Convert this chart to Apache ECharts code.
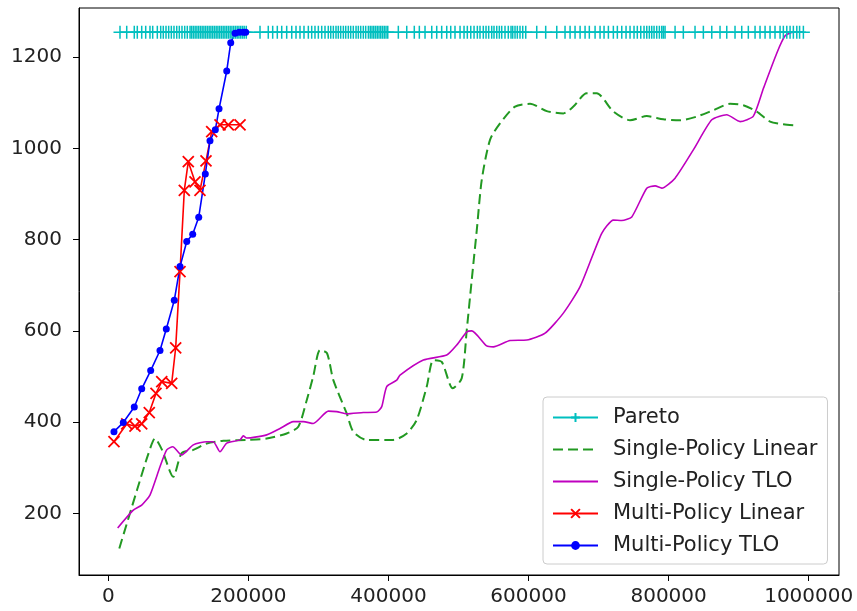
<!DOCTYPE html>
<html>
<head>
<meta charset="utf-8">
<script src="https://cdn.jsdelivr.net/npm/echarts@6/dist/echarts.min.js"></script>
<style>
html,body{margin:0;padding:0;background:#fff;}
#chart{width:857px;height:611px;}
</style>
</head>
<body>
<div id="chart"></div>
<script>
// ---- data ----
var xTicks = [0, 200000, 400000, 600000, 800000, 1000000];
var yTicks = [200, 400, 600, 800, 1000, 1200];

var seriesNames = ['Pareto', 'Single-Policy Linear', 'Single-Policy TLO', 'Multi-Policy Linear', 'Multi-Policy TLO'];

var paretoLevel = 1255;
var paretoX = [16700, 26300, 37100, 41400, 47700, 53400, 59500, 63400, 70000, 74800, 78500, 82400, 86200, 90000, 93800, 97700,
  101400, 105200, 109100, 112800, 116700, 119000, 121500, 124000, 126500, 129000, 131500, 134000, 136500, 139000, 141500,
  144000, 146500, 149000, 151500, 154000, 156500, 159000, 161500, 164000, 166500, 169000, 171500, 174000, 176500, 179000,
  181500, 184000, 186500, 189000, 191500, 194000, 197000, 216600, 228400, 234700, 241300, 247600, 254700, 261900, 268000,
  273700, 279400, 285600, 290400, 295100, 299900, 304700, 309400, 314100, 317600, 321300, 325100, 328400, 331800, 335600,
  339000, 342700, 346100, 349800, 353700, 357000, 360400, 364100, 367500, 371300, 374000, 376500, 379000, 381500, 384000,
  386500, 389000, 391500, 394000, 396500, 399000, 414100, 426100, 436900, 444100, 452200, 461800, 468900, 476000, 483200,
  488900, 495000, 502200, 507900, 512600, 517500, 522200, 526900, 530700, 535400, 539300, 543100, 547400, 550700, 554600,
  558300, 561700, 566400, 571100, 575000, 577400, 580700, 584000, 587800, 591700, 596000, 611700, 624500, 640300, 652100,
  659300, 666400, 673600, 680700, 686800, 695000, 702100, 707800, 714000, 721100, 726800, 733100, 739200, 744900, 750600,
  755300, 760200, 764900, 768800, 772500, 775900, 779200, 783000, 786800, 790200, 792500, 794900, 809200, 821000, 837700,
  849600, 861600, 873400, 883000, 894800, 904400, 913800, 923400, 930500, 937700, 944800, 951900, 959100, 963800, 968700,
  973400, 978100, 983000, 987000, 992400];

var spLinearX = [15700, 41000, 56700, 66700, 76700, 92800, 104800, 121400, 140500, 164200, 197600, 226200, 254700, 271300,
  283300, 292700, 302300, 312300, 321300, 340400, 349800, 368900, 406900, 426100, 440400, 454700, 464100, 476100, 491800,
  504600, 511800, 518900, 526100, 533200, 545000, 559300, 580700, 602100, 626000, 649700, 664000, 683100, 697400, 721100,
  744900, 768800, 792500, 816300, 840200, 863900, 887700, 906700, 925900, 944900, 963900, 978200];
var spLinearY = [123, 251, 328, 364, 339, 280, 332, 339, 353, 359, 361, 364, 375, 390,
  448, 501, 558, 551, 492, 419, 379, 361, 361, 375, 405, 478, 536, 532, 474,
  496, 602, 712, 821, 931, 1019, 1055, 1092, 1098, 1082, 1077, 1092, 1121, 1121, 1081,
  1062, 1071, 1064, 1062, 1070, 1084, 1098, 1095, 1081, 1059, 1053, 1051];

var spTloX = [13400, 35700, 47700, 59500, 73800, 83400, 92000, 104800, 121400, 140500, 149900, 159500, 169100, 188100,
  192800, 197600, 226200, 245200, 264200, 278500, 292700, 314200, 326100, 340400, 364100, 383300, 390400, 397500, 411800,
  416500, 449800, 483200, 497500, 511800, 518900, 540300, 549800, 573600, 597400, 623600, 649700, 673600, 704500, 721100,
  733100, 747400, 768800, 780700, 790200, 809200, 835300, 861600, 883000, 902000, 921000, 935400, 954400, 966300, 978100,
  992400];
var spTloY = [168, 207, 218, 240, 302, 339, 346, 328, 350, 357, 357, 335, 354, 361,
  370, 365, 372, 386, 401, 401, 397, 424, 423, 418, 421, 422, 434, 478, 492,
  503, 536, 547, 569, 598, 600, 567, 565, 579, 580, 595, 639, 697, 814, 843,
  842, 850, 913, 918, 913, 935, 997, 1063, 1074, 1059, 1071, 1132, 1209, 1247, 1255,
  1255];

var mpLinearX = [8100, 26300, 38100, 47700, 58500, 68100, 76300, 90500, 96200, 102400, 108500, 114200, 123800, 130900,
  139500, 147600, 159500, 171400, 188100];
var mpLinearY = [357, 396, 391, 396, 421, 463, 489, 485, 563, 730, 908, 971, 927, 908,
  973, 1037, 1052, 1052, 1052];

var mpTloX = [8100, 21400, 37100, 47700, 60500, 73800, 82800, 94200, 102400, 112000, 120500, 129100, 138500, 145200,
  152800, 158100, 169100, 174800, 181000, 187000, 192800, 196200];
var mpTloY = [379, 399, 433, 473, 513, 557, 604, 667, 741, 796, 812, 849, 944, 1017,
  1041, 1087, 1170, 1232, 1253, 1255, 1255, 1255];

// ---- build ----
function pairs(xs, ys) { return xs.map(function (x, i) { return [x, ys[i]]; }); }

var FONT = 'DejaVu Sans';
var plusPath = 'path://M5,0L5,10M0,5L10,5';
var crossPath = 'path://M0,0L10,10M10,0L0,10';

var chart = echarts.init(document.getElementById('chart'), null, {renderer: 'canvas'});
chart.setOption({
  animation: false,
  backgroundColor: '#ffffff',
  grid: {left: 79, right: 18, top: 8, bottom: 36, show: true, borderColor: '#000', borderWidth: 1, containLabel: false},
  xAxis: {
    type: 'value', min: -41833, max: 1043261,
    splitLine: {show: false},
    axisLine: {show: true, onZero: false, lineStyle: {color: '#000', width: 1}},
    axisTick: {show: true, inside: false, length: 6, lineStyle: {color: '#000', width: 1}, customValues: xTicks},
    axisLabel: {customValues: xTicks, color: '#222', fontFamily: FONT, fontSize: 20, margin: 12,
      formatter: function (v) { return String(v); }}
  },
  yAxis: {
    type: 'value', min: 64.7, max: 1308.1,
    splitLine: {show: false},
    axisLine: {show: true, onZero: false, lineStyle: {color: '#000', width: 1}},
    axisTick: {show: true, inside: false, length: 6, lineStyle: {color: '#000', width: 1}, customValues: yTicks},
    axisLabel: {customValues: yTicks, color: '#222', fontFamily: FONT, fontSize: 20, margin: 17,
      formatter: function (v) { return String(v); }}
  },
  legend: {
    orient: 'vertical', left: 543, top: 397,
    data: [
      {name: seriesNames[0]},
      {name: seriesNames[1], itemStyle: {opacity: 0}},
      {name: seriesNames[2], itemStyle: {opacity: 0}},
      {name: seriesNames[3]},
      {name: seriesNames[4]}
    ],
    backgroundColor: 'rgba(255,255,255,0.8)',
    borderColor: '#cccccc', borderWidth: 1, borderRadius: 4,
    padding: [10, 10, 8, 9],
    itemWidth: 45, itemHeight: 11, itemGap: 11,
    textStyle: {fontFamily: FONT, fontSize: 21, color: '#222', padding: [0, 0, 0, 10], lineHeight: 21}
  },
  series: [
    {
      name: seriesNames[0], type: 'line',
      data: paretoX.map(function (x) { return [x, paretoLevel]; }),
      symbol: plusPath, symbolSize: 13, showAllSymbol: true,
      lineStyle: {color: '#00BFBF', width: 1.5},
      itemStyle: {color: '#00BFBF', borderColor: '#00BFBF', borderWidth: 1.5}
    },
    {
      name: seriesNames[1], type: 'line',
      data: pairs(spLinearX, spLinearY), smooth: 0.25,
      showSymbol: false, symbol: 'none',
      lineStyle: {color: '#229922', width: 2, type: [10, 5]},
      itemStyle: {color: '#229922'}
    },
    {
      name: seriesNames[2], type: 'line',
      data: pairs(spTloX, spTloY), smooth: 0.2,
      showSymbol: false, symbol: 'none',
      lineStyle: {color: '#BF00BF', width: 1.6},
      itemStyle: {color: '#BF00BF'}
    },
    {
      name: seriesNames[3], type: 'line',
      data: pairs(mpLinearX, mpLinearY),
      symbol: crossPath, symbolSize: 11, showAllSymbol: true,
      lineStyle: {color: '#FF0000', width: 1.6},
      itemStyle: {color: '#FF0000', borderColor: '#FF0000', borderWidth: 1.8}
    },
    {
      name: seriesNames[4], type: 'line',
      data: pairs(mpTloX, mpTloY),
      symbol: 'circle', symbolSize: 7, showAllSymbol: true,
      lineStyle: {color: '#0000FF', width: 1.6},
      itemStyle: {color: '#0000FF', borderWidth: 0}
    }
  ]
});
</script>
</body>
</html>
